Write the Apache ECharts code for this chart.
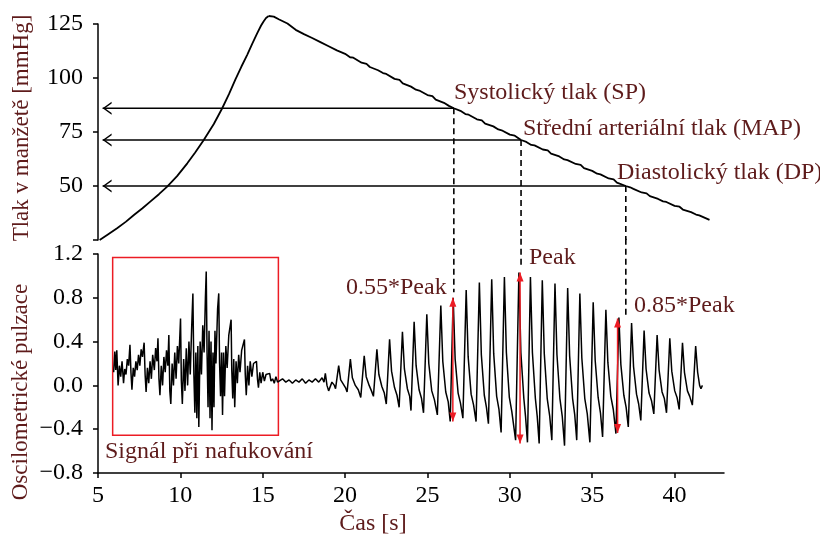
<!DOCTYPE html>
<html>
<head>
<meta charset="utf-8">
<script src="https://cdn.jsdelivr.net/npm/echarts@6/dist/echarts.min.js"></script>
<style>
  html, body { margin: 0; background: #fff; }
  #chart { width: 820px; height: 541px; }
</style>
</head>
<body>
<div id="chart"></div>
<script>
// tlak v manžetě při nafukování [s, mmHg]
const pressureUp = [
  [5.1, 25], [5.6, 27.6], [6.18, 30.6], [6.7, 33.5], [7.18, 36.6], [7.7, 39.7], [8.19, 42.9],
  [8.7, 46.2], [9.2, 49.7], [9.8, 54.6], [10.42, 60.5], [10.9, 65.5], [11.42, 71.3], [12.03, 78.7],
  [12.54, 86], [12.95, 92.5], [13.35, 99.5], [13.7, 105.2], [14.05, 110.6], [14.36, 115.8],
  [14.66, 120.7], [14.9, 124.3], [15.06, 126.3], [15.2, 127.8], [15.36, 128.7]
];

// tlak v manžetě při vypouštění [s, mmHg]
const pressureDown = [
  [15.36, 128.7], [15.67, 128.4], [16, 127.1], [16.5, 125.2], [17, 122.3],
  [17.5, 120.3], [18, 118.5], [18.5, 116.6], [19, 114.7], [19.5, 112.8], [20, 111.2],
  [20.3, 109.6], [20.5, 109.4], [21, 107.1], [21.3, 106.5], [21.5, 105.1], [22, 103.6],
  [22.3, 102.3], [22.5, 101.9], [23, 99.6], [23.3, 99.1], [23.5, 97.5], [24, 96.0],
  [24.3, 94.6], [24.5, 94.2], [25, 92.1], [25.3, 91.6], [25.5, 90.0], [26, 88.5],
  [26.3, 87.1], [26.6, 86.0], [27, 84.8], [27.3, 83.3], [27.5, 83.0], [28, 80.9],
  [28.3, 80.4], [28.5, 78.9], [29, 77.6], [29.3, 76.2], [29.5, 75.8], [30, 73.8],
  [30.3, 73.3], [30.68, 71.3], [31, 70.4], [31.3, 69.0], [31.5, 68.8], [32, 66.9],
  [32.3, 66.5], [32.5, 65.0], [33, 63.7], [33.3, 62.3], [33.5, 62.0], [34, 60.2],
  [34.3, 59.8], [34.5, 58.3], [35, 57.0], [35.3, 55.7], [35.5, 55.4], [36, 53.5],
  [36.3, 53.1], [36.5, 51.6], [37.04, 50.0], [37.3, 49.4], [37.5, 48.7], [38, 47.0],
  [38.3, 46.6], [38.5, 45.3], [39, 44.0], [39.3, 42.9], [39.5, 42.6], [40, 40.8],
  [40.3, 40.4], [40.5, 39.1], [41, 37.9], [41.3, 36.8], [41.5, 36.4], [42.12, 34.3]
];

// oscilometrický signál při nafukování [s, -]
const inflation = [
  [5.95, 0.12], [6.02, 0.31], [6.08, 0.14], [6.14, 0.32], [6.22, 0.0], [6.3, 0.18], [6.38, 0.08],
  [6.46, 0.22], [6.55, 0.02], [6.62, 0.15], [6.7, 0.1], [6.78, 0.24], [6.86, 0.18], [6.94, 0.37],
  [7.0, 0.12], [7.06, -0.04], [7.14, 0.16], [7.22, 0.08], [7.3, 0.22], [7.38, 0.14], [7.46, 0.28],
  [7.54, 0.18], [7.62, 0.33], [7.7, 0.26], [7.8, 0.39], [7.86, 0.1], [7.92, -0.06], [8.0, 0.16],
  [8.08, 0.02], [8.16, 0.22], [8.24, 0.06], [8.32, 0.28], [8.42, 0.14], [8.5, 0.34], [8.58, 0.22],
  [8.64, 0.43], [8.7, 0.06], [8.76, -0.09], [8.84, 0.18], [8.92, 0.0], [9.0, 0.26], [9.08, 0.12],
  [9.16, 0.32], [9.24, 0.18], [9.3, 0.46], [9.36, -0.05], [9.42, -0.17], [9.5, 0.2], [9.58, 0.0],
  [9.66, 0.3], [9.74, 0.06], [9.82, 0.36], [9.9, 0.2], [10.01, 0.61], [10.06, 0.04], [10.12, -0.17],
  [10.2, 0.24], [10.28, -0.05], [10.36, 0.34], [10.44, 0.0], [10.52, 0.4], [10.6, 0.1], [10.68, 0.5],
  [10.76, 0.84], [10.82, 0.1], [10.88, -0.25], [10.94, 0.3], [11.0, -0.3], [11.06, 0.36], [11.12, -0.38],
  [11.2, 0.4], [11.28, 0.1], [11.36, 0.55], [11.44, 0.3], [11.52, 0.8], [11.57, 1.04], [11.62, 0.3],
  [11.68, -0.2], [11.74, 0.5], [11.8, -0.3], [11.86, 0.4], [11.92, -0.41], [11.98, 0.3], [12.04, -0.2],
  [12.1, 0.5], [12.16, 0.2], [12.26, 0.7], [12.33, 0.84], [12.38, 0.2], [12.44, -0.1], [12.5, 0.3],
  [12.56, -0.27], [12.62, 0.3], [12.68, -0.1], [12.76, 0.36], [12.84, 0.16], [12.94, 0.46], [13.08, 0.6],
  [13.12, 0.14], [13.18, -0.12], [13.24, 0.24], [13.3, -0.2], [13.38, 0.22], [13.46, 0.02], [13.54, 0.28],
  [13.62, 0.12], [13.72, 0.32], [13.89, 0.42], [13.94, 0.1], [14.0, -0.09], [14.08, 0.18], [14.16, 0.0],
  [14.24, 0.22], [14.34, 0.08], [14.44, 0.2], [14.62, 0.22], [14.68, 0.06], [14.74, -0.02], [14.82, 0.12],
  [14.9, 0.02], [15.0, 0.12], [15.1, 0.04], [15.2, 0.1], [15.42, 0.11], [15.5, 0.04], [15.6, 0.06],
  [15.7, 0.02], [15.8, 0.08], [15.9, 0.03]
];

// oscilometrický signál při vypouštění [s, -]
const deflation = [
  [16.0, 0.04], [16.2, 0.06], [16.4, 0.03], [16.6, 0.05], [16.8, 0.02], [17.0, 0.05], [17.2, 0.03],
  [17.4, 0.06], [17.6, 0.02], [17.8, 0.05], [18.0, 0.03], [18.2, 0.06], [18.4, 0.03], [18.6, 0.07],
  [18.72, 0.03],
  [18.8, 0.11], [18.9, 0.0], [19.0, -0.05], [19.2, 0.03], [19.35, 0.0],
  [19.42, -0.03], [19.61, 0.18], [19.73, 0.05], [19.9, 0.01], [20.02, -0.02],
  [20.12, -0.06], [20.32, 0.24], [20.44, 0.07], [20.62, 0.0], [20.8, -0.04],
  [20.95, -0.11], [21.16, 0.27], [21.28, 0.08], [21.46, 0.0], [21.6, -0.05],
  [21.72, -0.1], [21.93, 0.33], [22.05, 0.1], [22.23, -0.01], [22.38, -0.07],
  [22.5, -0.17], [22.7, 0.42], [22.82, 0.13], [23.0, -0.02], [23.15, -0.09],
  [23.28, -0.2], [23.48, 0.49], [23.6, 0.15], [23.78, -0.03], [23.92, -0.1],
  [24.0, -0.23], [24.19, 0.58], [24.31, 0.18], [24.49, -0.04], [24.64, -0.12],
  [24.76, -0.25], [24.96, 0.65], [25.08, 0.2], [25.26, -0.05], [25.42, -0.13],
  [25.6, -0.27], [25.81, 0.73], [25.93, 0.22], [26.11, -0.06], [26.26, -0.15],
  [26.38, -0.33], [26.56, 0.8], [26.68, 0.24], [26.86, -0.07], [27.0, -0.16],
  [27.15, -0.3], [27.35, 0.87], [27.47, 0.26], [27.65, -0.08], [27.8, -0.18],
  [27.95, -0.33], [28.15, 0.94], [28.27, 0.28], [28.45, -0.09], [28.58, -0.2],
  [28.7, -0.35], [28.9, 0.97], [29.02, 0.29], [29.2, -0.1], [29.34, -0.22],
  [29.47, -0.43], [29.67, 0.99], [29.79, 0.3], [29.97, -0.11], [30.12, -0.24],
  [30.35, -0.5], [30.55, 1.03], [30.67, 0.3], [30.85, -0.12], [30.95, -0.28],
  [31.07, -0.52], [31.25, 0.99], [31.37, 0.3], [31.55, -0.12], [31.66, -0.28],
  [31.78, -0.53], [31.97, 0.96], [32.09, 0.29], [32.27, -0.12], [32.42, -0.28],
  [32.55, -0.5], [32.74, 0.93], [32.86, 0.28], [33.04, -0.12], [33.18, -0.28],
  [33.32, -0.55], [33.51, 0.89], [33.63, 0.27], [33.81, -0.12], [33.94, -0.27],
  [34.06, -0.5], [34.25, 0.84], [34.37, 0.25], [34.55, -0.12], [34.7, -0.26],
  [34.86, -0.52], [35.06, 0.76], [35.18, 0.23], [35.36, -0.11], [35.5, -0.25],
  [35.63, -0.47], [35.83, 0.69], [35.95, 0.21], [36.13, -0.1], [36.28, -0.22],
  [36.44, -0.44], [36.62, 0.62], [36.74, 0.19], [36.92, -0.09], [37.06, -0.2],
  [37.19, -0.38], [37.39, 0.57], [37.51, 0.17], [37.69, -0.08], [37.82, -0.17],
  [37.95, -0.32], [38.15, 0.5], [38.27, 0.15], [38.45, -0.07], [38.6, -0.14],
  [38.74, -0.26], [38.94, 0.46], [39.06, 0.14], [39.24, -0.06], [39.38, -0.12],
  [39.51, -0.25], [39.71, 0.43], [39.83, 0.13], [40.01, -0.05], [40.15, -0.11],
  [40.28, -0.22], [40.48, 0.39], [40.6, 0.12], [40.78, -0.05], [40.92, -0.1],
  [41.08, -0.18], [41.28, 0.36], [41.4, 0.12], [41.52, 0.0], [41.6, -0.03], [41.69, 0.0]
];

const xTicks = [5, 10, 15, 20, 25, 30, 35, 40];

// SP, MAP, DP: čas průsečíku a tlak
const levelT = [26.6, 30.68, 37.04];
const levelP = [86, 71.3, 50];
const levelArrowStart = 5.28;
const dashEnd = [0.85, 1.08, 0.61];
const dashBridge = 1.34;

// červené šipky amplitudy
const arrowT = [26.54, 30.62, 36.54];
const arrowTop = [0.8, 1.03, 0.61];
const arrowBottom = [-0.33, -0.53, -0.435];

// rámeček signálu při nafukování
const boxT = [5.89, 15.95];
const boxV = [1.167, -0.456];

const maroon = '#5e1b1b';
const red = '#ec1c24';
const serif = '"Liberation Serif", "Times New Roman", serif';
const chevron = 'path://M10,0 L0,5 L10,10 L10,8.6 L2.6,5 L10,1.4 Z';

const chart = echarts.init(document.getElementById('chart'));

const axisLine = { onZero: false, lineStyle: { color: '#000', width: 1.5 } };
const axisTick = { length: 5, lineStyle: { color: '#000', width: 1.5 } };
const tickFont = { color: '#000', fontFamily: serif, fontSize: 24 };

const series = [
  {
    type: 'line',
    xAxisIndex: 0,
    yAxisIndex: 0,
    data: pressureUp,
    showSymbol: false,
    clip: false,
    lineStyle: { color: '#000', width: 1.8 },
    z: 3
  },
  {
    type: 'line',
    xAxisIndex: 0,
    yAxisIndex: 0,
    data: pressureDown,
    showSymbol: false,
    clip: false,
    lineStyle: { color: '#000', width: 1.8 },
    z: 3
  }
];

levelT.forEach((t, i) => {
  series.push({
    type: 'line',
    xAxisIndex: 0,
    yAxisIndex: 0,
    symbol: 'none',
    data: [
      { value: [levelArrowStart, levelP[i]], symbol: chevron, symbolSize: [9, 13], symbolOffset: [4.5, 0] },
      { value: [t, levelP[i]], symbol: 'none' }
    ],
    itemStyle: { color: '#000' },
    lineStyle: { color: '#000', width: 1.5 },
    z: 2
  });
  series.push({
    type: 'line',
    xAxisIndex: 0,
    yAxisIndex: 0,
    symbol: 'none',
    data: [[t, levelP[i]], [t, 25]],
    lineStyle: { color: '#000', width: 1.6, type: [6, 4] },
    z: 2
  });
  series.push({
    type: 'line',
    xAxisIndex: 1,
    yAxisIndex: 1,
    symbol: 'none',
    clip: false,
    data: [[t, dashBridge], [t, dashEnd[i]]],
    lineStyle: { color: '#000', width: 1.6, type: [6, 4] },
    z: 2
  });
});

series.push({
  type: 'line',
  xAxisIndex: 1,
  yAxisIndex: 1,
  data: inflation.concat(deflation),
  showSymbol: false,
  lineStyle: { color: '#000', width: 1.5 },
  z: 3,
  markArea: {
    silent: true,
    itemStyle: { color: 'rgba(0,0,0,0)', borderColor: red, borderWidth: 1.5 },
    data: [[{ coord: [boxT[0], boxV[0]] }, { coord: [boxT[1], boxV[1]] }]]
  }
});

arrowT.forEach((t, i) => {
  series.push({
    type: 'line',
    xAxisIndex: 1,
    yAxisIndex: 1,
    data: [
      { value: [t, arrowTop[i]], symbol: 'triangle', symbolSize: [7, 9], symbolOffset: [0, 4.5] },
      { value: [t, arrowBottom[i]], symbol: 'triangle', symbolSize: [7, 9], symbolRotate: 180, symbolOffset: [0, -4.5] }
    ],
    itemStyle: { color: red },
    lineStyle: { color: red, width: 1.5 },
    z: 5
  });
});

const txt = (text, x, y, extra) => ({
  type: 'text',
  x: x,
  y: y,
  z: 10,
  ...extra,
  style: Object.assign({ text: text, font: '24px ' + serif, fill: maroon, verticalAlign: 'middle' }, extra && extra.style)
});

chart.setOption({
  animation: false,
  backgroundColor: '#fff',
  grid: [
    { left: 98, right: 96, top: 24, height: 216 },
    { left: 98, right: 96, top: 254, height: 219 }
  ],
  xAxis: [
    { gridIndex: 0, type: 'value', min: 5, max: 43, show: false },
    {
      gridIndex: 1, type: 'value', min: 5, max: 43, interval: 5,
      axisLine: axisLine,
      axisTick: { ...axisTick, customValues: xTicks },
      splitLine: { show: false },
      axisLabel: { ...tickFont, customValues: xTicks, margin: 11 }
    }
  ],
  yAxis: [
    {
      gridIndex: 0, type: 'value', min: 25, max: 125, interval: 25,
      axisLine: axisLine, axisTick: axisTick, splitLine: { show: false },
      axisLabel: { ...tickFont, margin: 15, formatter: v => (v === 25 ? '' : String(v)) }
    },
    {
      gridIndex: 1, type: 'value', min: -0.8, max: 1.2, interval: 0.4,
      axisLine: axisLine, axisTick: axisTick, splitLine: { show: false },
      axisLabel: {
        ...tickFont, margin: 15,
        formatter: v => (v < -1e-9 ? '\u2212' : '') + Math.abs(v).toFixed(1)
      }
    }
  ],
  graphic: [
    txt('Systolický tlak (SP)', 454, 93),
    txt('Střední arteriální tlak (MAP)', 523, 129),
    txt('Diastolický tlak (DP)', 617, 173),
    txt('Peak', 529, 258),
    txt('0.55*Peak', 346, 288),
    txt('0.85*Peak', 634, 306),
    txt('Signál při nafukování', 105, 452),
    txt('Čas [s]', 373, 524, { style: { align: 'center' } }),
    txt('Tlak v manžetě [mmHg]', 22, 128, { rotation: Math.PI / 2, style: { align: 'center', font: '23px ' + serif } }),
    txt('Oscilometrické pulzace', 21, 392, { rotation: Math.PI / 2, style: { align: 'center', font: '23px ' + serif } })
  ],
  series: series
});
</script>
</body>
</html>
